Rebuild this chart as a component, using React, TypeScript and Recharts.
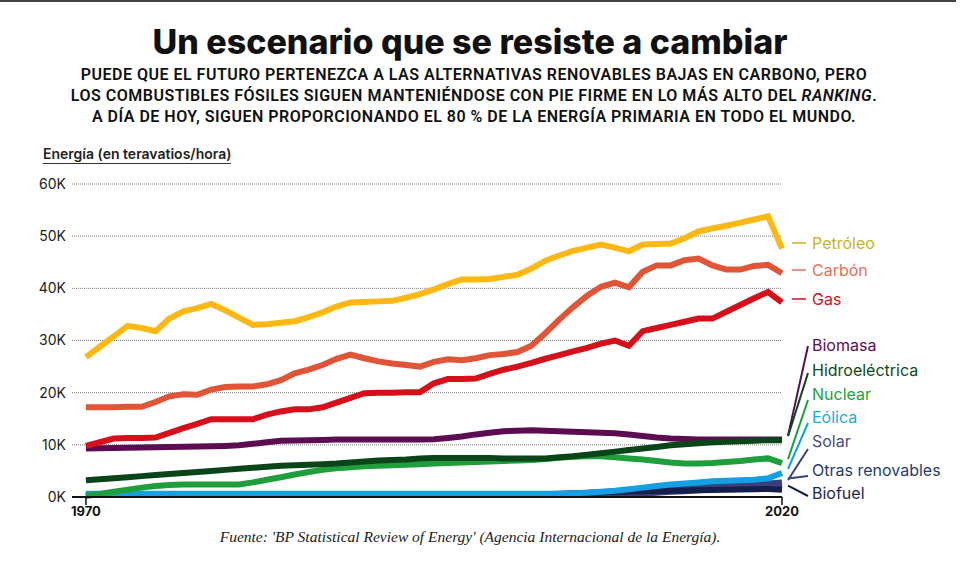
import { LineChart, Line, XAxis, YAxis, CartesianGrid } from "recharts";

// años 1970-2020
const years = [
  1970, 1971, 1972, 1973, 1974, 1975, 1976, 1977, 1978, 1979,
  1980, 1981, 1982, 1983, 1984, 1985, 1986, 1987, 1988, 1989,
  1990, 1991, 1992, 1993, 1994, 1995, 1996, 1997, 1998, 1999,
  2000, 2001, 2002, 2003, 2004, 2005, 2006, 2007, 2008, 2009,
  2010, 2011, 2012, 2013, 2014, 2015, 2016, 2017, 2018, 2019, 2020,
];

// valores en miles de TWh
const petroleo = [
  26.8, 28.8, 30.8, 32.8, 32.4, 31.8, 34.2, 35.6, 36.2, 37.0,
  35.8, 34.4, 33.0, 33.1, 33.4, 33.7, 34.5, 35.4, 36.5, 37.3,
  37.4, 37.5, 37.6, 38.2, 38.9, 39.8, 40.8, 41.7, 41.7, 41.8,
  42.2, 42.6, 43.8, 45.3, 46.3, 47.2, 47.8, 48.4, 47.8, 47.1,
  48.4, 48.5, 48.6, 49.6, 50.9, 51.5, 52.0, 52.6, 53.2, 53.8, 47.6,
];
const carbon = [
  17.2, 17.2, 17.2, 17.3, 17.3, 18.2, 19.3, 19.7, 19.6, 20.6,
  21.1, 21.2, 21.2, 21.6, 22.4, 23.7, 24.4, 25.3, 26.5, 27.3,
  26.6, 26.0, 25.6, 25.3, 25.0, 25.9, 26.4, 26.2, 26.6, 27.2,
  27.4, 27.8, 29.0, 31.4, 34.0, 36.4, 38.6, 40.3, 41.1, 40.2,
  43.2, 44.4, 44.4, 45.4, 45.7, 44.4, 43.6, 43.6, 44.3, 44.5, 42.9,
];
const gas = [
  9.8, 10.5, 11.2, 11.3, 11.3, 11.4, 12.3, 13.2, 14.0, 14.9,
  14.9, 14.9, 14.9, 15.8, 16.4, 16.8, 16.8, 17.2, 18.1, 19.0,
  19.9, 20.0, 20.0, 20.1, 20.1, 21.8, 22.6, 22.6, 22.7, 23.6,
  24.4, 25.0, 25.7, 26.5, 27.2, 27.9, 28.6, 29.4, 30.0, 29.0,
  31.8, 32.4, 33.0, 33.6, 34.2, 34.2, 35.5, 36.8, 38.1, 39.3, 37.3,
];
const biomasa = [
  9.3, 9.35, 9.4, 9.45, 9.5, 9.55, 9.6, 9.65, 9.7, 9.75,
  9.8, 9.9, 10.2, 10.5, 10.8, 10.85, 10.9, 10.95, 11.0, 11.0,
  11.0, 11.0, 11.0, 11.0, 11.0, 11.05, 11.3, 11.6, 12.0, 12.3,
  12.6, 12.7, 12.8, 12.7, 12.6, 12.5, 12.4, 12.3, 12.2, 12.0,
  11.7, 11.4, 11.2, 11.1, 11.0, 11.0, 11.0, 11.0, 11.0, 11.0, 11.0,
];
const hidro = [
  3.2, 3.4, 3.6, 3.8, 4.0, 4.2, 4.4, 4.6, 4.8, 5.0,
  5.2, 5.4, 5.6, 5.8, 6.0, 6.1, 6.2, 6.3, 6.4, 6.6,
  6.8, 7.0, 7.1, 7.2, 7.4, 7.5, 7.5, 7.5, 7.5, 7.5,
  7.4, 7.4, 7.4, 7.4, 7.6, 7.8, 8.1, 8.4, 8.7, 9.0,
  9.3, 9.6, 9.9, 10.1, 10.3, 10.5, 10.6, 10.7, 10.8, 10.9, 10.9,
];
const nuclear = [
  0.2, 0.6, 1.0, 1.4, 1.8, 2.1, 2.3, 2.4, 2.4, 2.4,
  2.4, 2.4, 2.8, 3.3, 3.8, 4.3, 4.8, 5.2, 5.5, 5.7,
  5.9, 6.0, 6.1, 6.2, 6.3, 6.4, 6.5, 6.6, 6.7, 6.8,
  6.9, 7.0, 7.1, 7.3, 7.5, 7.7, 7.8, 7.8, 7.6, 7.4,
  7.2, 6.9, 6.6, 6.4, 6.4, 6.5, 6.7, 6.9, 7.2, 7.4, 6.5,
];
const eolica = [
  0.6, 0.6, 0.6, 0.6, 0.6, 0.6, 0.6, 0.6, 0.6, 0.6,
  0.6, 0.6, 0.6, 0.6, 0.6, 0.6, 0.6, 0.6, 0.6, 0.6,
  0.6, 0.6, 0.6, 0.6, 0.6, 0.6, 0.6, 0.6, 0.6, 0.6,
  0.6, 0.6, 0.6, 0.6, 0.6, 0.7, 0.8, 1.0, 1.2, 1.5,
  1.8, 2.1, 2.4, 2.6, 2.8, 3.0, 3.1, 3.2, 3.3, 3.6, 4.6,
];
const solar = [
  0.4, 0.4, 0.4, 0.4, 0.4, 0.4, 0.4, 0.4, 0.4, 0.4,
  0.4, 0.4, 0.4, 0.4, 0.4, 0.4, 0.4, 0.4, 0.4, 0.4,
  0.4, 0.4, 0.4, 0.4, 0.4, 0.4, 0.4, 0.4, 0.4, 0.4,
  0.4, 0.4, 0.4, 0.4, 0.4, 0.4, 0.4, 0.4, 0.4, 0.5,
  0.6, 0.8, 1.0, 1.1, 1.3, 1.5, 1.7, 1.9, 2.1, 2.3, 2.5,
];
const otras = [
  0.5, 0.5, 0.5, 0.5, 0.5, 0.5, 0.5, 0.5, 0.5, 0.5,
  0.5, 0.5, 0.5, 0.5, 0.5, 0.5, 0.5, 0.5, 0.5, 0.5,
  0.5, 0.5, 0.5, 0.5, 0.5, 0.5, 0.5, 0.5, 0.5, 0.5,
  0.5, 0.5, 0.5, 0.5, 0.5, 0.5, 0.7, 0.9, 1.1, 1.3,
  1.5, 1.7, 1.8, 1.9, 2.0, 2.1, 2.2, 2.3, 2.4, 2.6, 2.8,
];
const biofuel = [
  0.4, 0.4, 0.4, 0.4, 0.4, 0.4, 0.4, 0.4, 0.4, 0.4,
  0.4, 0.4, 0.4, 0.4, 0.4, 0.4, 0.4, 0.4, 0.4, 0.4,
  0.4, 0.4, 0.4, 0.4, 0.4, 0.4, 0.4, 0.4, 0.4, 0.4,
  0.4, 0.45, 0.5, 0.55, 0.6, 0.7, 0.8, 0.9, 1.0, 1.05,
  1.1, 1.15, 1.2, 1.25, 1.3, 1.35, 1.4, 1.45, 1.5, 1.55, 1.4,
];

const yTicks = [0, 10, 20, 30, 40, 50, 60];
const xTicks = [1970, 2020];

const data = years.map((year, i) => ({
  year,
  petroleo: petroleo[i],
  carbon: carbon[i],
  gas: gas[i],
  biomasa: biomasa[i],
  hidro: hidro[i],
  nuclear: nuclear[i],
  eolica: eolica[i],
  solar: solar[i],
  otras: otras[i],
  biofuel: biofuel[i],
}));

const SANS = "Inter, 'Open Sans', sans-serif";

// orden de dibujo: de abajo arriba
const series = [
  { key: "otras", name: "Otras renovables", color: "#2b4a7d", text: "#1f3d6e", labelY: 470, connY: 476, dash: false },
  { key: "solar", name: "Solar", color: "#3e3e7e", text: "#4a4a86", labelY: 441, connY: 449, dash: false },
  { key: "biofuel", name: "Biofuel", color: "#141f4c", text: "#1b2553", labelY: 493, connY: 496, dash: false },
  { key: "eolica", name: "Eólica", color: "#16a0e4", text: "#22a8e8", labelY: 417, connY: 423, dash: false },
  { key: "nuclear", name: "Nuclear", color: "#1f9e3c", text: "#26a040", labelY: 394, connY: 400, dash: false },
  { key: "biomasa", name: "Biomasa", color: "#5c0d52", text: "#5c0d52", labelY: 345, connY: 346, dash: false },
  { key: "hidro", name: "Hidroeléctrica", color: "#0a4519", text: "#0e4a20", labelY: 370, connY: 373, dash: false },
  { key: "gas", name: "Gas", color: "#d5101a", text: "#d0101b", labelY: 299, connY: 299, dash: true },
  { key: "carbon", name: "Carbón", color: "#e05438", text: "#e8705a", labelY: 270, connY: 270, dash: true },
  { key: "petroleo", name: "Petróleo", color: "#fdb813", text: "#c9b322", labelY: 243, connY: 243, dash: true },
];

function makeEndLabel(s: any) {
  return (props: any) => {
    const { x, y, index } = props;
    if (index !== years.length - 1) return <g />;
    return (
      <g>
        {s.dash ? (
          <line x1={792} y1={s.labelY} x2={806} y2={s.labelY} stroke={s.text} strokeWidth={1.5} />
        ) : (
          <line x1={x + 6} y1={y - 4} x2={808} y2={s.connY} stroke={s.color} strokeWidth={2} />
        )}
        <text
          x={812}
          y={s.labelY}
          dominantBaseline="central"
          fill={s.text}
          fontSize={16}
          fontFamily={SANS}
        >
          {s.name}
        </text>
      </g>
    );
  };
}

export default function App() {
  return (
    <div
      style={{
        position: "absolute",
        left: 0,
        top: 0,
        width: 960,
        height: 572,
        background: "#fff",
        overflow: "hidden",
        fontFamily: SANS,
        color: "#111",
      }}
    >
      <div style={{ position: "absolute", left: 0, top: 0, width: 956, height: 2, background: "#444" }} />
      <div
        style={{
          position: "absolute",
          top: 20,
          left: 0,
          width: 940,
          textAlign: "center",
          fontSize: 34,
          fontWeight: 800,
          lineHeight: "44px",
        }}
      >
        Un escenario que se resiste a cambiar
      </div>
      <div
        style={{
          position: "absolute",
          top: 64,
          left: 0,
          width: 948,
          textAlign: "center",
          fontSize: 16,
          fontWeight: 600,
          letterSpacing: 0.5,
          lineHeight: "21px",
          fontFamily: "Roboto, sans-serif",
        }}
      >
        PUEDE QUE EL FUTURO PERTENEZCA A LAS ALTERNATIVAS RENOVABLES BAJAS EN CARBONO, PERO
        <br />
        LOS COMBUSTIBLES FÓSILES SIGUEN MANTENIÉNDOSE CON PIE FIRME EN LO MÁS ALTO DEL <i>RANKING</i>.
        <br />
        A DÍA DE HOY, SIGUEN PROPORCIONANDO EL 80 % DE LA ENERGÍA PRIMARIA EN TODO EL MUNDO.
      </div>
      <div
        style={{
          position: "absolute",
          top: 145,
          left: 43,
          fontSize: 14,
          fontWeight: 600,
          borderBottom: "1px solid #333",
          paddingBottom: 1,
          color: "#222",
        }}
      >
        Energía (en teravatios/hora)
      </div>
      <div style={{ position: "absolute", left: 0, top: 0 }}>
        <LineChart
          width={960}
          height={572}
          data={data}
          margin={{ top: 184, right: 178, bottom: 45, left: 12 }}
        >
          <CartesianGrid
            vertical={false}
            stroke="#7a7a7a"
            strokeDasharray="1 1"
          />
          <XAxis
            dataKey="year"
            type="number"
            domain={[1969, 2020]}
            ticks={xTicks}
            axisLine={{ stroke: "#111", strokeWidth: 2 }}
            tickLine={{ stroke: "#111", strokeWidth: 1.5 }}
            tickSize={8}
            height={30}
            tick={{ fill: "#111", fontSize: 13, fontWeight: 700, fontFamily: SANS }}
          />
          <YAxis
            domain={[0, 60]}
            ticks={yTicks}
            width={60}
            axisLine={false}
            tickLine={false}
            tickSize={4}
            tickFormatter={(v: number) => `${v}K`}
            tick={{ fill: "#222", fontSize: 14, fontFamily: SANS }}
          />
          {series.map((s) => (
            <Line
              key={s.key}
              dataKey={s.key}
              name={s.name}
              type="linear"
              stroke={s.color}
              strokeWidth={6}
              dot={false}
              activeDot={false}
              isAnimationActive={false}
              label={makeEndLabel(s)}
            />
          ))}
        </LineChart>
      </div>
      <div
        style={{
          position: "absolute",
          top: 528,
          left: 0,
          width: 940,
          textAlign: "center",
          fontSize: 15.5,
          fontStyle: "italic",
          fontFamily: "'Liberation Serif', 'DejaVu Serif', serif",
          color: "#222",
        }}
      >
        Fuente: 'BP Statistical Review of Energy' (Agencia Internacional de la Energía).
      </div>
    </div>
  );
}
